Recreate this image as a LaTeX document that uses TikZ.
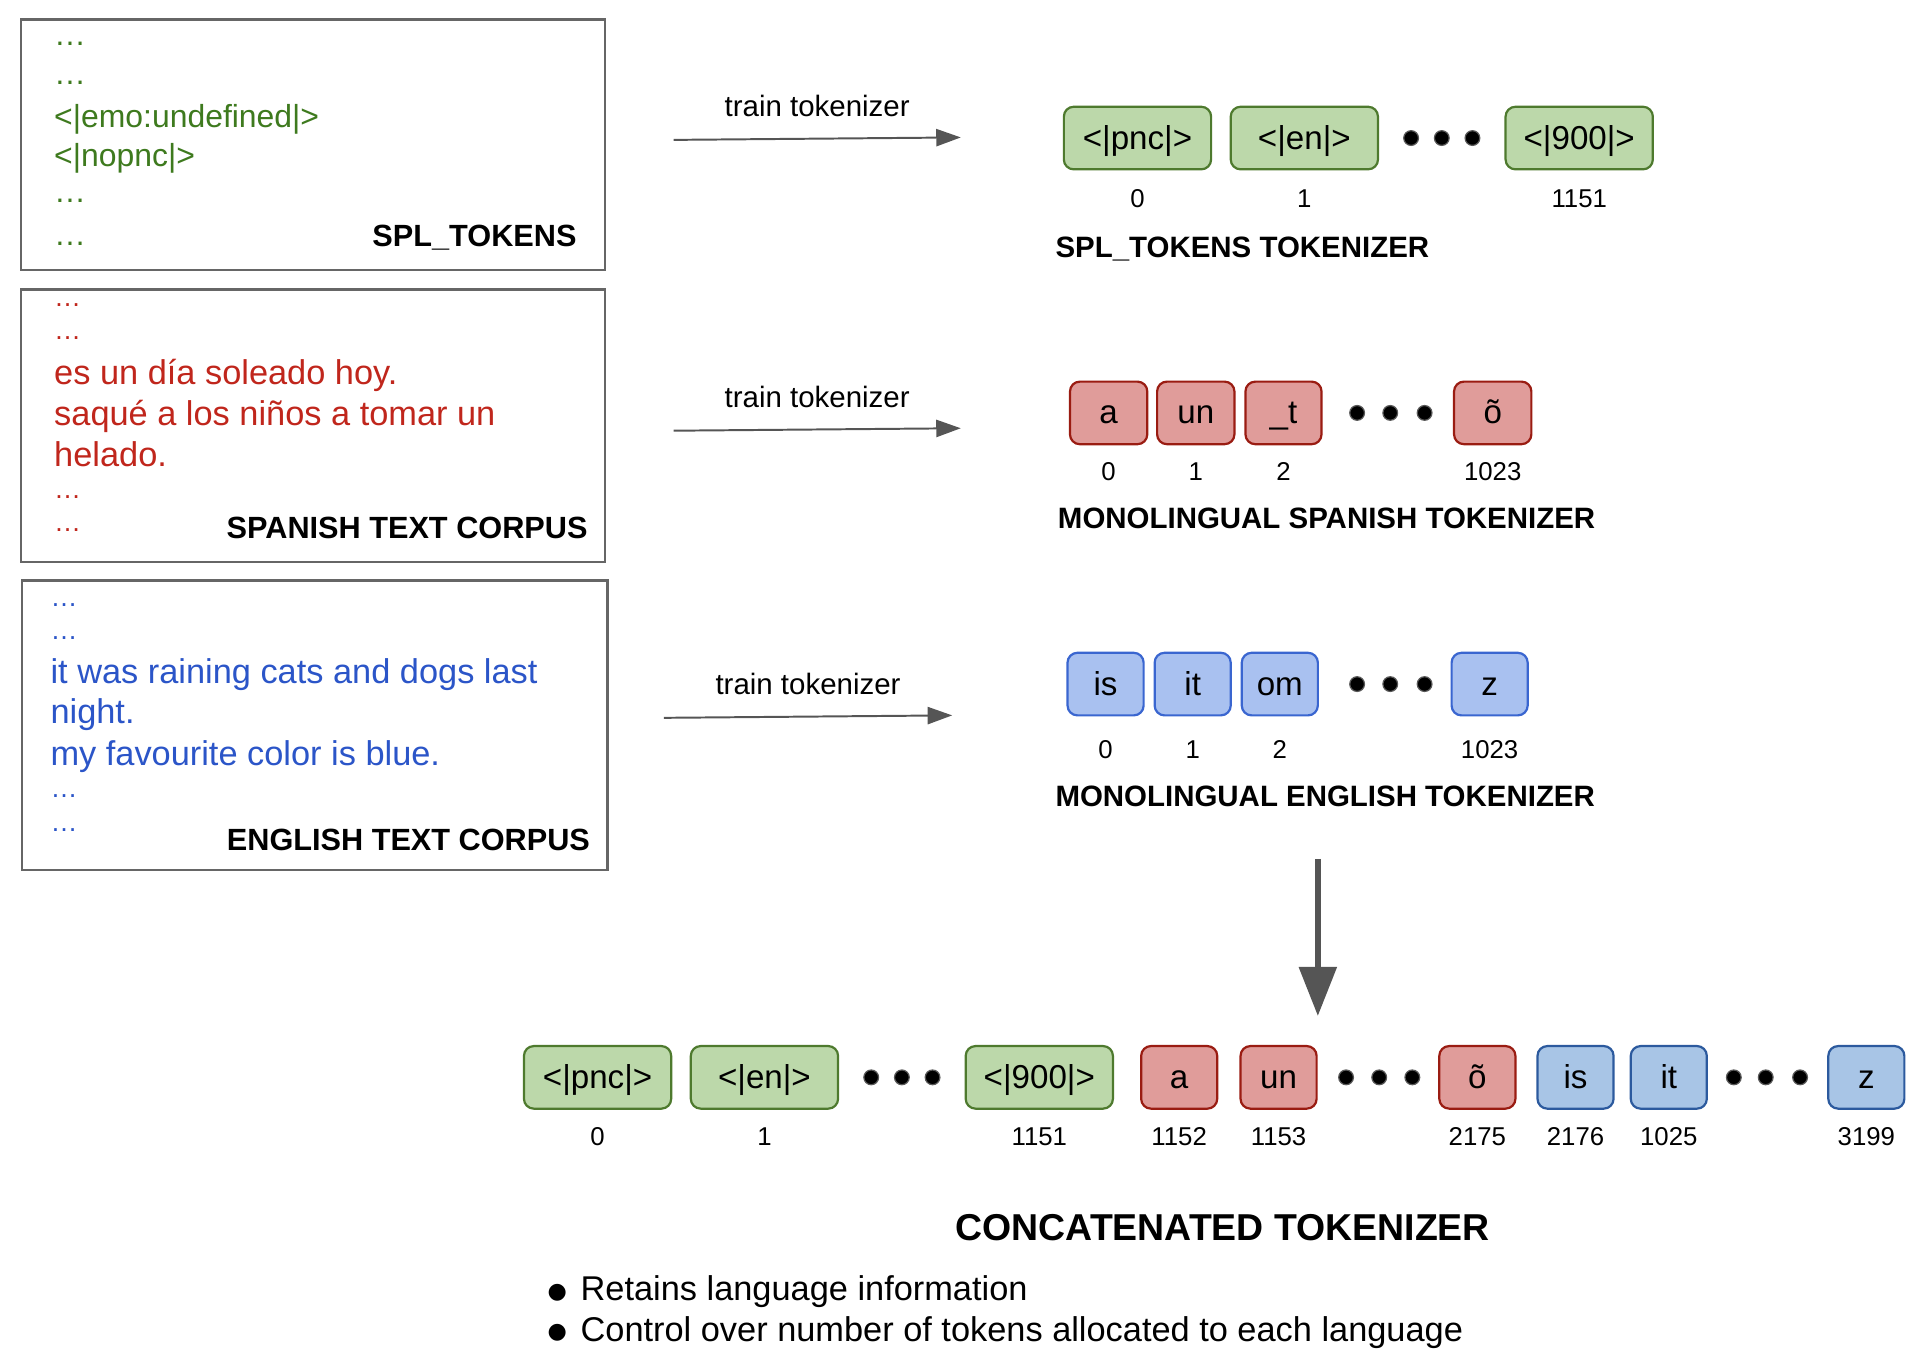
\documentclass[tikz,border=0pt]{standalone}
\usepackage{fontspec}
\setmainfont{Liberation Sans}
\newfontfamily\symfont{DejaVu Sans}
\usepackage{xcolor}
\usetikzlibrary{arrows.meta,positioning}

\definecolor{boxgray}{HTML}{666666}
\definecolor{arrowgray}{HTML}{555555}
\definecolor{spltext}{HTML}{3E7A1E}
\definecolor{estext}{HTML}{C0261C}
\definecolor{entext}{HTML}{2B55C8}
\definecolor{splfill}{HTML}{BCD8AA}
\definecolor{spldraw}{HTML}{4E7A2E}
\definecolor{esfill}{HTML}{E09C9A}
\definecolor{esdraw}{HTML}{9A1C12}
\definecolor{enfill}{HTML}{A9C1F0}
\definecolor{endraw}{HTML}{3A66D0}
\definecolor{catfill}{HTML}{A8C5E6}
\definecolor{catdraw}{HTML}{2C5A9E}

\begin{document}
\begin{tikzpicture}[x=1pt, y=-1pt, node distance=16pt,
        corpus/.style={rectangle, draw=boxgray, line width=2pt, anchor=north west, inner sep=0pt},
        txt/.style={anchor=base west, inner sep=0pt, font=\fontsize{28}{34}\selectfont},
        ell/.style={anchor=base west, inner sep=0pt, font=\fontsize{22}{26}\selectfont},
        lbl/.style={anchor=base east, inner sep=0pt, font=\fontsize{25}{30}\selectfont\bfseries},
        tok/.style={rectangle, rounded corners=8pt, line width=1.8pt, minimum height=51pt, inner sep=0pt, outer sep=0pt,
            text height=22pt, text depth=4pt, font=\fontsize{27}{30}\selectfont},
        wide/.style={minimum width=120pt},
        narrow/.style={minimum width=62pt},
        spltok/.style={fill=splfill, draw=spldraw},
        estok/.style={fill=esfill, draw=esdraw},
        entok/.style={fill=enfill, draw=endraw},
        cattok/.style={fill=catfill, draw=catdraw},
        dot/.style={circle, fill=black, draw=black!65, line width=1pt, minimum size=12pt, inner sep=0pt, outer sep=0pt},
        idx/.style={inner sep=0pt, font=\fontsize{21}{24}\selectfont},
        ttl/.style={anchor=base west, inner sep=0pt, font=\fontsize{24}{28}\selectfont\bfseries},
        trainarrow/.style={-{Triangle[length=20pt, width=14pt]}, draw=arrowgray, line width=1.6pt},
        trainlbl/.style={midway, above=17pt, inner sep=0pt, text=black, font=\fontsize{24}{28}\selectfont},
        bigarrow/.style={-{Triangle[length=40pt, width=30pt]}, draw=arrowgray, line width=5pt}
    ]
        \useasboundingbox (0,0) rectangle (1568,1117);

        % corpora
        \node[corpus, minimum width=476pt, minimum height=204pt] (spl) at (16,15) {};
        \node[corpus, minimum width=476pt, minimum height=222pt] (es) at (16,235) {};
        \node[corpus, minimum width=477pt, minimum height=236pt] (en) at (17,472) {};

        \foreach \y [count=\i] in {37,69,165,200}
            \node[ell, text=spltext, font=\fontsize{26}{30}\selectfont] (spl-e\i) at (44,\y) {…};
        \node[txt, text=spltext, font=\fontsize{26}{32}\selectfont] (spl-1) at (44,104) {<|emo:undefined|>};
        \node[txt, text=spltext, font=\fontsize{26}{32}\selectfont] (spl-2) at (44,136) {<|nopnc|>};
        \node[lbl] (spl-lbl) at (470,201) {SPL\_TOKENS};

        \foreach \y [count=\i] in {250,277,406,433}
            \node[ell, text=estext] (es-e\i) at (44,\y) {…};
        \foreach \y/\t [count=\i] in {313/es un día soleado hoy., 347/saqué a los niños a tomar un, 380/helado.}
            \node[txt, text=estext] (es-\i) at (44,\y) {\t};
        \node[lbl] (es-lbl) at (479,439) {SPANISH TEXT CORPUS};

        \foreach \y [count=\i] in {494,521,650,678}
            \node[ell, text=entext] (en-e\i) at (41,\y) {…};
        \foreach \y/\t [count=\i] in {557/it was raining cats and dogs last, 590/night., 624/my favourite color is blue.}
            \node[txt, text=entext] (en-\i) at (41,\y) {\t};
        \node[lbl] (en-lbl) at (481,693) {ENGLISH TEXT CORPUS};

        % train arrows
        \coordinate (tr1-s) at (549,114);
        \coordinate (tr1-e) at (783,112);
        \coordinate (tr2-s) at (549,351);
        \coordinate (tr2-e) at (783,349);
        \coordinate (tr3-s) at (541,585);
        \coordinate (tr3-e) at (776,583);
        \draw[trainarrow] (tr1-s) -- node[trainlbl] (tr1-l) {train tokenizer} (tr1-e);
        \draw[trainarrow] (tr2-s) -- node[trainlbl] (tr2-l) {train tokenizer} (tr2-e);
        \draw[trainarrow] (tr3-s) -- node[trainlbl] (tr3-l) {train tokenizer} (tr3-e);

        % spl_tokens tokenizer
        \node[tok, spltok, wide] (pnc) at (927,112.5) {<|pnc|>};
        \node[tok, spltok, wide, right=16pt of pnc] (ent) {<|en|>};
        \node[dot, right=21pt of ent] (d1a) {};
        \node[dot, right=13pt of d1a] (d1b) {};
        \node[dot, right=13pt of d1b] (d1c) {};
        \node[tok, spltok, wide, right=21pt of d1c] (n900) {<|900|>};
        \node[idx] (i-pnc) at ([yshift=-24pt]pnc.south) {0};
        \node[idx] (i-ent) at ([yshift=-24pt]ent.south) {1};
        \node[idx] (i-900) at ([yshift=-24pt]n900.south) {1151};
        \node[ttl] (spl-ttl) at (860,209.6) {SPL\_TOKENS TOKENIZER};

        % spanish tokenizer
        \node[tok, estok, minimum width=63pt] (a) at (903.5,336.5) {a};
        \node[tok, estok, minimum width=63pt, right=8pt of a] (un) {un};
        \node[tok, estok, narrow, right=9pt of un] (ut) {\_t};
        \node[dot, right=23pt of ut] (d2a) {};
        \node[dot, right=15pt of d2a] (d2b) {};
        \node[dot, right=16pt of d2b] (d2c) {};
        \node[tok, estok, minimum width=63pt, right=18pt of d2c] (ot) {õ};
        \node[idx] (i-a) at ([yshift=-22pt]a.south) {0};
        \node[idx] (i-un) at ([yshift=-22pt]un.south) {1};
        \node[idx] (i-ut) at ([yshift=-22pt]ut.south) {2};
        \node[idx] (i-ot) at ([yshift=-22pt]ot.south) {1023};
        \node[ttl] (es-ttl) at (862,430.6) {MONOLINGUAL SPANISH TOKENIZER};

        % english tokenizer
        \node[tok, entok, narrow] (is) at (901,557.5) {is};
        \node[tok, entok, narrow, right=9pt of is] (it) {it};
        \node[tok, entok, narrow, right=9pt of it] (om) {om};
        \node[dot, right=26pt of om] (d3a) {};
        \node[dot, right=15pt of d3a] (d3b) {};
        \node[dot, right=16pt of d3b] (d3c) {};
        \node[tok, entok, narrow, right=16pt of d3c] (z) {z};
        \node[idx] (i-is) at ([yshift=-28pt]is.south) {0};
        \node[idx] (i-it) at ([yshift=-28pt]it.south) {1};
        \node[idx] (i-om) at ([yshift=-28pt]om.south) {2};
        \node[idx] (i-z) at ([yshift=-28pt]z.south) {1023};
        \node[ttl] (en-ttl) at (860,657.6) {MONOLINGUAL ENGLISH TOKENIZER};

        % concatenate
        \coordinate (down-s) at (1074,700);
        \coordinate (down-e) at (1074,828);
        \draw[bigarrow] (down-s) -- (down-e);

        \node[tok, spltok, wide] (c-pnc) at (487,878) {<|pnc|>};
        \node[tok, spltok, wide, right=16pt of c-pnc] (c-en) {<|en|>};
        \node[dot, right=21pt of c-en] (c-d1a) {};
        \node[dot, right=13pt of c-d1a] (c-d1b) {};
        \node[dot, right=13pt of c-d1b] (c-d1c) {};
        \node[tok, spltok, wide, right=21pt of c-d1c] (c-900) {<|900|>};
        \node[tok, estok, narrow, right=23pt of c-900] (c-a) {a};
        \node[tok, estok, narrow, right=19pt of c-a] (c-un) {un};
        \node[dot, right=18pt of c-un] (c-d2a) {};
        \node[dot, right=15pt of c-d2a] (c-d2b) {};
        \node[dot, right=15pt of c-d2b] (c-d2c) {};
        \node[tok, estok, narrow, right=16pt of c-d2c] (c-ot) {õ};
        \node[tok, cattok, narrow, right=18pt of c-ot] (c-is) {is};
        \node[tok, cattok, narrow, right=14pt of c-is] (c-it) {it};
        \node[dot, right=16pt of c-it] (c-d3a) {};
        \node[dot, right=14pt of c-d3a] (c-d3b) {};
        \node[dot, right=16pt of c-d3b] (c-d3c) {};
        \node[tok, cattok, narrow, right=17pt of c-d3c] (c-z) {z};
        \foreach \n/\v in {pnc/0, en/1, 900/1151, a/1152, un/1153, ot/2175, is/2176, it/1025, z/3199}
            \node[idx] (ci-\n) at ([yshift=-23pt]c-\n.south) {\v};

        \node[anchor=base, inner sep=0pt, font=\fontsize{30.5}{36}\selectfont\bfseries] (cat-ttl) at (996.5,1011) {CONCATENATED TOKENIZER};
        \node[txt] (pt1) at (446,1060) {\makebox[27pt][l]{\raisebox{2pt}{\symfont\fontsize{18}{18}\selectfont ●}}Retains language information};
        \node[txt] (pt2) at (446,1093) {\makebox[27pt][l]{\raisebox{2pt}{\symfont\fontsize{18}{18}\selectfont ●}}Control over number of tokens allocated to each language};
    \end{tikzpicture}
\end{document}
